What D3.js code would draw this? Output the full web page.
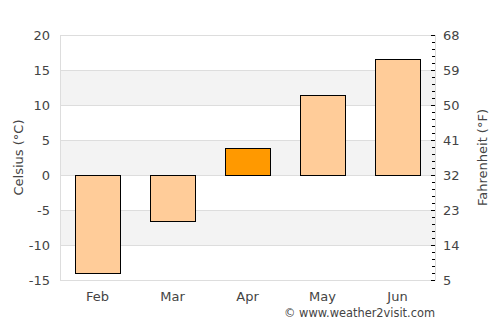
<!DOCTYPE html>
<html>
<head>
<meta charset="utf-8">
<script src="https://cdn.jsdelivr.net/npm/d3@7"></script>
<style>
  body { margin: 0; background: #fff; }
  text { font-family: "DejaVu Sans", sans-serif; fill: #444; }
</style>
</head>
<body>
<svg id="chart" width="500" height="325"></svg>
<script>
let months = ["Feb", "Mar", "Apr", "May", "Jun"];
let temps = [-14, -6.6, 3.8, 11.4, 16.5];
let highlight = ["Apr"];
let celsiusTicks = [-15, -10, -5, 0, 5, 10, 15, 20];
let fahrenheitTicks = [5, 14, 23, 32, 41, 50, 59, 68];

let svg = d3.select("#chart");
let plotLeft = 60, plotRight = 435, plotTop = 35, plotBottom = 280;

let x = d3.scaleBand().domain(months).range([plotLeft, plotRight]).paddingInner(0.4).paddingOuter(0.2);
let y = d3.scaleLinear().domain([-15, 20]).range([plotBottom, plotTop]);
let yF = d3.scaleLinear().domain([5, 68]).range([plotBottom, plotTop]);

// alternating bands
for (let i = 0; i < celsiusTicks.length - 1; i++) {
    if (i % 2 == 1) {
        svg.append("rect")
            .attr("x", plotLeft).attr("width", plotRight - plotLeft)
            .attr("y", y(celsiusTicks[i + 1]))
            .attr("height", y(celsiusTicks[i]) - y(celsiusTicks[i + 1]))
            .attr("fill", "#f3f3f3");
    }
}

// grid lines
svg.append("g").selectAll("line").data(celsiusTicks).join("line")
    .attr("x1", plotLeft).attr("x2", plotRight)
    .attr("y1", d => Math.round(y(d)) + 0.5).attr("y2", d => Math.round(y(d)) + 0.5)
    .attr("stroke", "#dddddd");

// plot borders
svg.append("line").attr("x1", plotLeft + 0.5).attr("x2", plotLeft + 0.5).attr("y1", plotTop).attr("y2", plotBottom)
    .attr("stroke", "#dddddd");
svg.append("line").attr("x1", plotRight + 0.5).attr("x2", plotRight + 0.5).attr("y1", plotTop).attr("y2", plotBottom + 0.5)
    .attr("stroke", "#dddddd");

// bars
svg.append("g").selectAll("rect").data(months).join("rect")
    .attr("x", d => Math.round(x(d)) + 0.5)
    .attr("width", Math.round(x.bandwidth()))
    .attr("y", (d, i) => Math.round(y(Math.max(0, temps[i]))) + 0.5)
    .attr("height", (d, i) => Math.round(Math.abs(y(temps[i]) - y(0))))
    .attr("fill", d => highlight.includes(d) ? "#ff9900" : "#ffcc99")
    .attr("stroke", "#000")
    .attr("stroke-width", 1);

// left axis labels
svg.append("g").selectAll("text").data(celsiusTicks).join("text")
    .attr("x", 50).attr("y", d => y(d) + 4.5)
    .attr("text-anchor", "end")
    .style("font-size", "13px")
    .text(d => d);

svg.append("text")
    .attr("transform", "translate(23," + ((plotTop + plotBottom) / 2) + ") rotate(-90)")
    .attr("text-anchor", "middle")
    .style("font-size", "13px")
    .text("Celsius (°C)");

// right axis ticks (minor every 1°C)
let minor = d3.range(-15, 21, 1);
svg.append("g").selectAll("line").data(minor).join("line")
    .attr("x1", d => d % 5 == 0 ? plotRight - 4 : plotRight - 3).attr("x2", plotRight)
    .attr("y1", d => Math.round(y(d)) + 0.5).attr("y2", d => Math.round(y(d)) + 0.5)
    .attr("stroke", "#000");

svg.append("g").selectAll("text").data(fahrenheitTicks).join("text")
    .attr("x", 443).attr("y", d => yF(d) + 4.5)
    .style("font-size", "13px")
    .text(d => d);

svg.append("text")
    .attr("transform", "translate(487," + ((plotTop + plotBottom) / 2) + ") rotate(-90)")
    .attr("text-anchor", "middle")
    .style("font-size", "13px")
    .text("Fahrenheit (°F)");

// month labels
svg.append("g").selectAll("text").data(months).join("text")
    .attr("x", d => x(d) + x.bandwidth() / 2).attr("y", 301)
    .attr("text-anchor", "middle")
    .style("font-size", "13px")
    .text(d => d);

svg.append("text")
    .attr("x", 435).attr("y", 317)
    .attr("text-anchor", "end")
    .style("font-size", "11.4px")
    .text("© www.weather2visit.com");
</script>
</body>
</html>
